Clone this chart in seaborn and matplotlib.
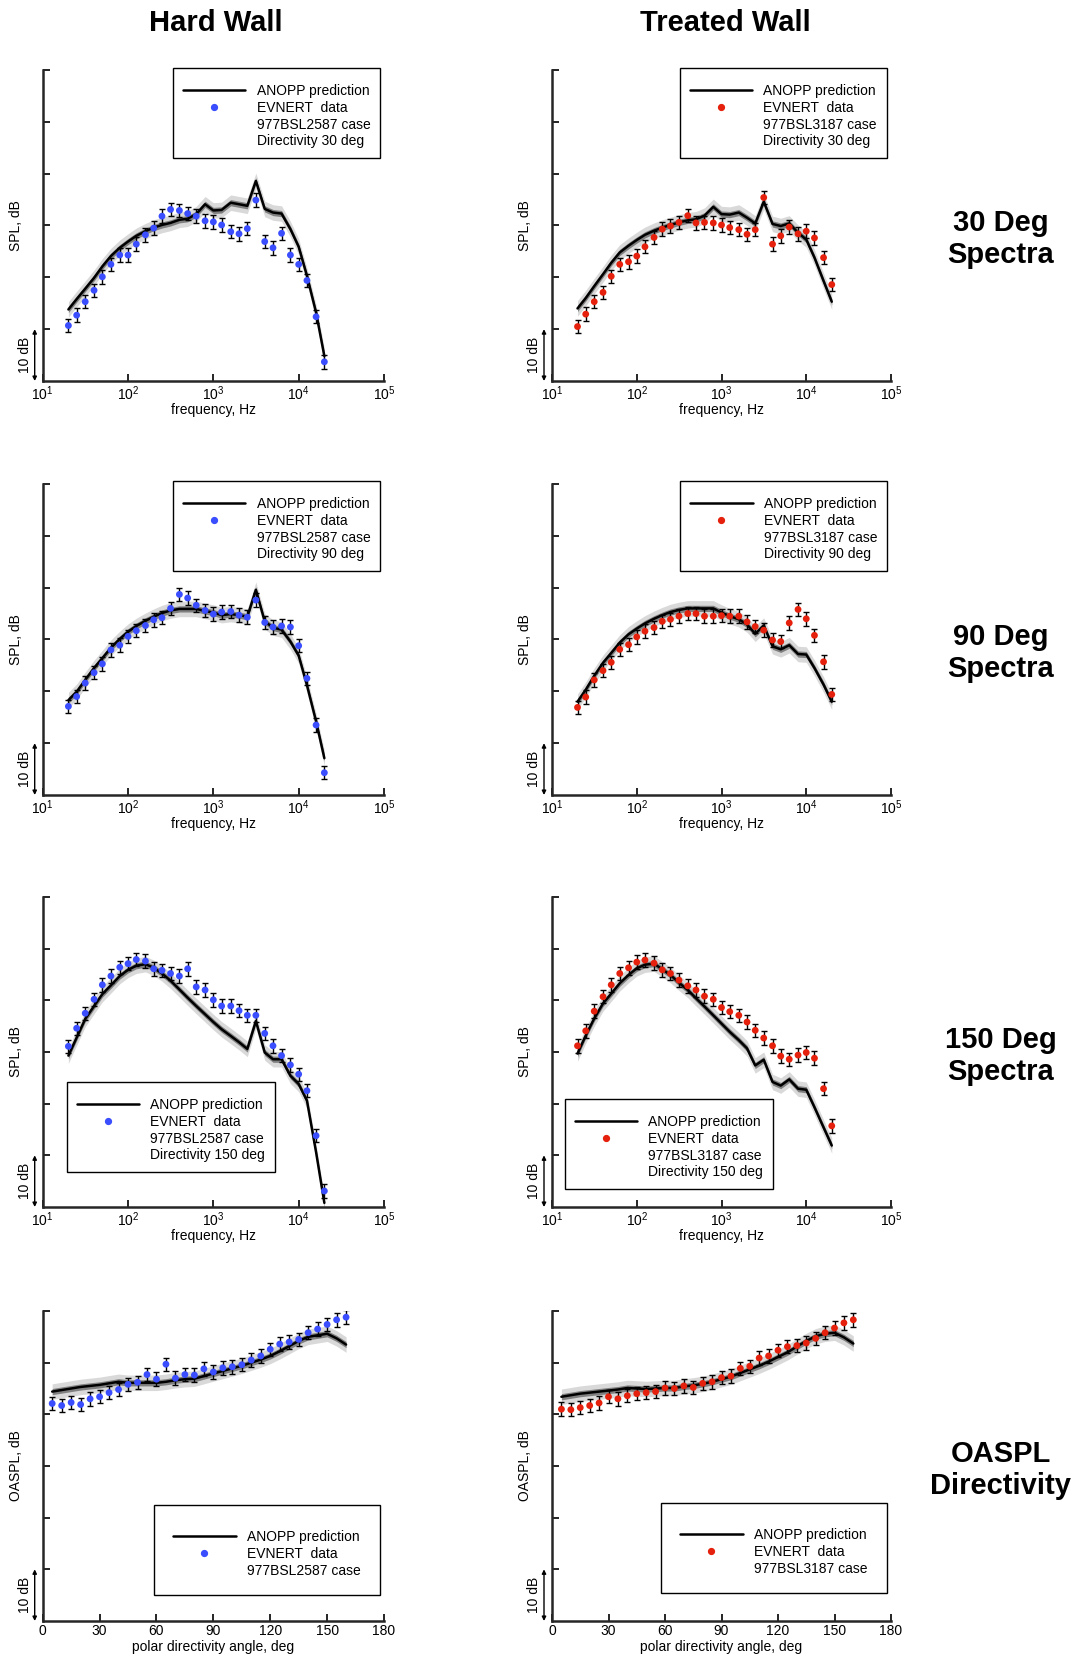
import numpy as np
import seaborn as sns
import matplotlib.pyplot as plt
from matplotlib.lines import Line2D
from matplotlib.patches import Rectangle
from matplotlib.transforms import IdentityTransform

sns.set_style('ticks')
plt.rcParams['font.family'] = ['Liberation Sans', 'DejaVu Sans']
plt.rcParams['text.color'] = 'black'
plt.rcParams['axes.labelcolor'] = 'black'

# третьоктавные полосы, Гц
freq = [20, 25, 31.5, 40, 50, 63, 80, 100, 125, 160, 200, 250, 315, 400, 500,
        630, 800, 1000, 1250, 1600, 2000, 2500, 3150, 4000, 5000, 6300, 8000,
        10000, 12500, 16000, 20000]

# спектры (дБ, относительная шкала)
hw30_data = [10.7, 12.7, 15.3, 17.5, 20.1, 22.5, 24.3, 24.3, 26.4, 28.2, 29.5, 31.8, 33.1, 32.9, 32.3,
             31.8, 30.9, 30.7, 30.1, 28.8, 28.4, 29.4, 34.9, 26.9, 25.7, 28.5, 24.3, 22.5, 19.4, 12.4, 3.7]
hw30_pred = [13.8, 15.8, 17.8, 19.9, 22.1, 24.1, 25.7, 26.9, 28.0, 28.9, 29.6, 30.1, 30.5, 31.1, 31.3,
             32.2, 34.1, 32.9, 33.0, 34.4, 34.1, 33.8, 38.6, 33.2, 32.5, 32.3, 29.3, 25.9, 20.3, 13.2, 4.8]
tw30_data = [10.5, 12.9, 15.3, 17.1, 20.2, 22.5, 23.0, 24.1, 25.9, 27.7, 29.3, 29.9, 30.6, 31.9, 30.5,
             30.6, 30.5, 30.1, 29.6, 29.2, 28.3, 29.2, 35.4, 26.4, 28.0, 29.7, 28.4, 28.9, 27.6, 23.8, 18.6]
tw30_pred = [14.0, 16.0, 18.3, 20.6, 22.8, 24.8, 26.1, 27.2, 28.2, 29.0, 29.6, 30.1, 30.6, 31.0, 31.2,
             31.9, 33.6, 32.2, 32.1, 32.5, 31.5, 30.4, 34.6, 30.3, 29.9, 30.4, 28.6, 27.3, 23.8, 19.3, 15.3]

hw90_data = [17.1, 19.0, 21.6, 23.6, 25.3, 28.0, 28.9, 30.6, 31.7, 32.7, 33.8, 34.2, 36.0, 38.7, 38.0,
             36.6, 35.6, 34.9, 35.3, 35.4, 34.7, 34.3, 37.6, 33.3, 32.4, 32.6, 32.4, 28.8, 22.5, 13.5, 4.3]
hw90_pred = [18.3, 19.9, 22.2, 24.5, 26.4, 28.4, 30.1, 31.5, 32.6, 33.6, 34.4, 35.1, 35.6, 35.9, 35.9,
             35.9, 35.5, 35.2, 34.7, 34.9, 34.7, 34.4, 39.6, 33.5, 32.3, 31.9, 29.6, 26.9, 21.2, 14.2, 7.1]
tw90_data = [16.9, 18.9, 22.2, 24.0, 25.6, 28.1, 29.0, 30.5, 31.6, 32.3, 33.5, 33.9, 34.5, 35.0, 35.0,
             34.5, 34.5, 34.6, 34.5, 34.5, 33.4, 32.5, 31.8, 29.9, 29.6, 33.2, 35.8, 34.0, 30.8, 25.7, 19.4]
tw90_pred = [18.0, 20.3, 23.0, 25.5, 27.4, 29.4, 31.0, 32.1, 33.1, 34.0, 34.7, 35.3, 35.7, 36.0, 36.0,
             36.0, 36.0, 35.2, 34.5, 33.9, 32.9, 31.1, 32.7, 28.7, 28.1, 28.9, 27.2, 27.1, 24.5, 21.3, 18.0]

hw150_data = [31.1, 34.6, 37.5, 40.2, 43.0, 44.7, 46.4, 47.1, 47.9, 47.6, 46.1, 45.8, 45.2, 44.7, 46.1,
              42.6, 42.0, 40.1, 38.9, 38.9, 38.0, 37.1, 37.1, 33.6, 31.2, 29.3, 27.5, 25.7, 22.5, 13.8, 3.1]
hw150_pred = [29.3, 32.8, 36.4, 38.9, 41.2, 42.9, 44.7, 45.9, 46.7, 47.0, 46.3, 45.2, 43.8, 42.1, 40.5,
              38.9, 37.3, 35.8, 34.4, 33.1, 31.9, 30.6, 36.0, 29.9, 28.6, 28.6, 25.4, 23.8, 20.6, 10.6, 0.8]
tw150_data = [31.2, 34.1, 37.9, 40.7, 43.0, 45.2, 46.3, 47.4, 47.8, 47.2, 45.9, 45.2, 43.9, 42.8, 42.0,
              40.8, 40.2, 38.6, 37.8, 37.1, 35.8, 34.2, 32.7, 31.2, 29.2, 28.6, 29.4, 29.9, 28.8, 22.9, 15.7]
tw150_pred = [29.7, 33.2, 36.5, 39.4, 41.3, 43.3, 44.9, 46.2, 46.9, 47.1, 46.0, 44.9, 43.4, 42.0, 40.4,
              38.8, 37.1, 35.5, 33.9, 32.3, 30.7, 27.4, 28.5, 24.2, 23.5, 24.7, 22.9, 22.7, 19.3, 15.4, 11.9]

# направленность OASPL
angle = [5, 10, 15, 20, 25, 30, 35, 40, 45, 50, 55, 60, 65, 70, 75, 80,
         85, 90, 95, 100, 105, 110, 115, 120, 125, 130, 135, 140, 145, 150, 155, 160]
hw_oaspl_data = [42.1, 41.7, 42.3, 41.9, 43.0, 43.4, 44.2, 44.8, 45.8, 46.2, 47.7, 46.8, 49.7, 47.0, 47.7, 47.6,
                 48.8, 48.2, 49.0, 49.2, 49.6, 50.5, 51.3, 52.6, 53.6, 54.0, 54.5, 55.8, 56.5, 57.4, 58.3, 58.8]
hw_oaspl_pred = [44.4, 44.7, 45.0, 45.3, 45.5, 45.7, 46.0, 46.3, 46.1, 46.1, 46.1, 46.1, 46.3, 46.6, 46.8, 46.9,
                 47.4, 47.9, 48.4, 48.9, 49.4, 50.0, 50.6, 51.3, 52.2, 53.2, 54.2, 55.0, 55.3, 55.6, 54.7, 53.5]
tw_oaspl_data = [41.0, 40.9, 41.3, 41.7, 42.2, 43.4, 43.0, 43.6, 44.0, 44.2, 44.4, 45.1, 45.0, 45.5, 45.2, 46.0,
                 46.3, 47.1, 47.4, 48.9, 49.3, 50.9, 51.3, 52.4, 53.1, 53.3, 53.8, 54.7, 55.8, 56.7, 57.7, 58.3]
tw_oaspl_pred = [43.4, 43.7, 44.0, 44.2, 44.4, 44.6, 44.8, 45.1, 45.0, 44.9, 45.0, 45.1, 45.1, 45.4, 45.6, 45.9,
                 46.3, 46.8, 47.3, 48.0, 48.7, 49.4, 50.2, 51.1, 52.0, 53.1, 54.2, 55.1, 55.6, 55.8, 54.9, 53.7]

data_err = 1.3
band_inner = 0.6
band_outer = 1.5

blue = '#3a4dff'
red = '#e5210d'

W, H = 1078, 1660
fig = plt.figure(figsize=(W / 100, H / 100), dpi=100)


def make_ax(x0, x1, top, bottom):
    return fig.add_axes([x0 / W, 1 - bottom / H, (x1 - x0) / W, (bottom - top) / H])


cols = [(42.7, 384.0), (552.0, 891.0)]
rows = [(70, 381), (484, 795), (897, 1207), (1311, 1621)]

panels = [
    # (row, col, x, pred, data, color, case, directivity, legend loc, frame corner px)
    (0, 0, freq, hw30_pred, hw30_data, blue, '977BSL2587', '30', 'upper right', (380, 68)),
    (0, 1, freq, tw30_pred, tw30_data, red, '977BSL3187', '30', 'upper right', (886.7, 68)),
    (1, 0, freq, hw90_pred, hw90_data, blue, '977BSL2587', '90', 'upper right', (380, 481)),
    (1, 1, freq, tw90_pred, tw90_data, red, '977BSL3187', '90', 'upper right', (887, 481)),
    (2, 0, freq, hw150_pred, hw150_data, blue, '977BSL2587', '150', 'lower left', (67, 1172)),
    (2, 1, freq, tw150_pred, tw150_data, red, '977BSL3187', '150', 'lower left', (565, 1189)),
    (3, 0, angle, hw_oaspl_pred, hw_oaspl_data, blue, '977BSL2587', None, 'lower right', (380, 1595)),
    (3, 1, angle, tw_oaspl_pred, tw_oaspl_data, red, '977BSL3187', None, 'lower right', (886.7, 1593)),
]

legends = []
for r, c, x, pred, data, color, case, direc, loc, corner in panels:
    x0, x1 = cols[c]
    top, bottom = rows[r]
    ax = make_ax(x0, x1, top, bottom)
    pred = np.array(pred)

    ax.fill_between(x, pred - band_outer, pred + band_outer, color='#d9d9d9', lw=0, zorder=1)
    ax.fill_between(x, pred - band_inner, pred + band_inner, color='#808080', lw=0, zorder=1.5)
    sns.lineplot(x=x, y=pred, color='black', linewidth=1.8, ax=ax, zorder=2)
    ax.errorbar(x, data, yerr=data_err, fmt='none', ecolor='black',
                elinewidth=1.0, capsize=2.2, capthick=1.0, zorder=2.5)
    sns.scatterplot(x=x, y=data, color=color, s=24, edgecolor='none', ax=ax, zorder=3)

    ax.set_ylim(0, 60)
    ax.set_yticks([10, 20, 30, 40, 50, 60])
    ax.set_yticklabels([])
    if direc is not None:
        ax.set_xscale('log')
        ax.set_xlim(10, 1e5)
        ax.set_xticks([10, 100, 1e3, 1e4, 1e5])
        ax.minorticks_off()
        ax.set_xlabel('frequency, Hz', fontsize=10, labelpad=0)
        ax.set_ylabel('SPL, dB', fontsize=10)
    else:
        ax.set_xlim(0, 180)
        ax.set_xticks([0, 30, 60, 90, 120, 150, 180])
        ax.set_xlabel('polar directivity angle, deg', fontsize=10, labelpad=1)
        ax.set_ylabel('OASPL, dB', fontsize=10)

    sns.despine(ax=ax)
    for s in ['left', 'bottom']:
        ax.spines[s].set_linewidth(1.8)
    ax.tick_params(direction='in', length=5, width=1.2, labelsize=10, pad=2.5, colors='black')

    wpx = x1 - x0
    ax.yaxis.set_label_coords(-20 / wpx, 0.5)

    # стрелка масштаба 10 dB
    ax.annotate('', xy=(-8 / wpx, 0), xytext=(-8 / wpx, 10),
                xycoords=ax.get_yaxis_transform(), textcoords=ax.get_yaxis_transform(),
                arrowprops=dict(arrowstyle='<|-|>', color='black', lw=1.0,
                                mutation_scale=6, shrinkA=0, shrinkB=0),
                annotation_clip=False)
    ax.text(-17.5 / wpx, 5, '10 dB', transform=ax.get_yaxis_transform(), rotation=90,
            ha='center', va='center', fontsize=10)

    handles = [Line2D([], [], color='black', lw=1.8),
               Line2D([], [], ls='none', marker='o', color=color, markersize=4.2),
               Line2D([], [], ls='none')]
    labels = ['ANOPP prediction', 'EVNERT  data', case + ' case']
    if direc is not None:
        handles.append(Line2D([], [], ls='none'))
        labels.append('Directivity ' + direc + ' deg')
        bpad, pad_top, pad_bot = 0.7, 6.4, 0.0
    else:
        bpad, pad_top, pad_bot = 1.4, 5.3, -2.0
    cx, cy = corner
    cy = cy + pad_top if 'upper' in loc else cy - pad_bot
    leg = ax.legend(handles, labels, loc=loc, bbox_to_anchor=(cx / W, 1 - cy / H),
                    bbox_transform=fig.transFigure, fontsize=10, frameon=False,
                    handlelength=4.5, handletextpad=0.8, borderpad=bpad,
                    labelspacing=0.2, borderaxespad=0)
    legends.append((leg, pad_top, pad_bot))

# рамки легенд: сверху отступ больше, чем снизу
fig.canvas.draw()
renderer = fig.canvas.get_renderer()
for leg, pad_top, pad_bot in legends:
    bb = leg.get_window_extent(renderer)
    fig.add_artist(Rectangle((bb.x0, bb.y0 - pad_bot), bb.width, bb.height + pad_top + pad_bot,
                             transform=IdentityTransform(), fill=False,
                             edgecolor='black', linewidth=1.0, zorder=6))

# заголовки столбцов и строк
fig.text(216 / W, 1 - 23 / H, 'Hard Wall', fontsize=21, fontweight='bold', ha='center', va='center')
fig.text(725 / W, 1 - 23 / H, 'Treated Wall', fontsize=21, fontweight='bold', ha='center', va='center')
row_labels = ['30 Deg\nSpectra', '90 Deg\nSpectra', '150 Deg\nSpectra', 'OASPL\nDirectivity']
row_y = [239, 653, 1056, 1470]
for lab, y in zip(row_labels, row_y):
    fig.text(1001 / W, 1 - y / H, lab, fontsize=21, fontweight='bold',
             ha='center', va='center', linespacing=1.2)

plt.savefig('out.png', dpi=100)
